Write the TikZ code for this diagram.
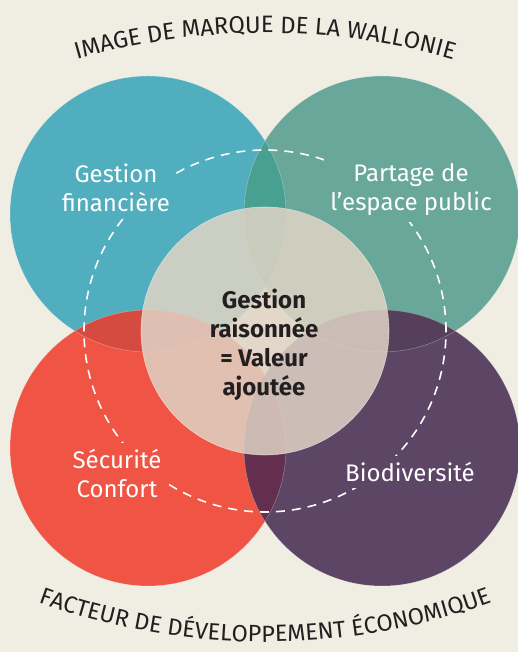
\documentclass[tikz,border=0pt]{standalone}
\usepackage{fontspec}
\setmainfont{Fira Sans}
\usepackage{xcolor}
\usepackage{tikz}
\usetikzlibrary{positioning,calc,decorations.text}
\definecolor{cream}{HTML}{F0EDE2}
\definecolor{tealc}{HTML}{50AEBE}
\definecolor{greenc}{HTML}{68A799}
\definecolor{redc}{HTML}{EF5444}
\definecolor{plumc}{HTML}{5D4566}
\definecolor{tgc}{HTML}{48A091}
\definecolor{trc}{HTML}{D64B40}
\definecolor{rpc}{HTML}{642E4F}
\definecolor{gpc}{HTML}{553F5A}
\definecolor{veil}{RGB}{224,212,197}
\definecolor{ink}{HTML}{231F20}
\newcommand{\bigR}{138}
\newcommand{\topfont}{\fontsize{23.8}{24}\selectfont\color{ink}}
\newcommand{\botfont}{\fontsize{23.5}{24}\selectfont\color{ink}}

\begin{document}
\begin{tikzpicture}[x=1pt, y=1pt,
    blob/.style={draw=white, draw opacity=0.35, line width=0.5pt},
    ring/.style={draw=white, line width=1.6pt, dash pattern=on 9pt off 7pt},
    lbl/.style={align=center, text=white, inner sep=6pt, font=\fontsize{24}{29}\selectfont},
    core/.style={align=center, text=ink, font=\fontsize{24}{29}\selectfont\bfseries}
]
\fill[cream] (0,0) rectangle (518,652);
\useasboundingbox (0,0) rectangle (518,652);

\coordinate (tl) at (148,438);
\coordinate (tr) at (382,438);
\coordinate (bl) at (148,204);
\coordinate (br) at (382,204);
\coordinate (mid) at (265,321);

\fill[tealc] (tl) circle[radius=\bigR];
\fill[greenc] (tr) circle[radius=\bigR];
\fill[redc] (bl) circle[radius=\bigR];
\fill[plumc] (br) circle[radius=\bigR];

\begin{scope}
  \clip (tl) circle[radius=\bigR];
  \fill[tgc] (tr) circle[radius=\bigR];
  \fill[trc] (bl) circle[radius=\bigR];
\end{scope}
\begin{scope}
  \clip (br) circle[radius=\bigR];
  \fill[rpc] (bl) circle[radius=\bigR];
  \fill[gpc] (tr) circle[radius=\bigR];
\end{scope}

\foreach \c in {tl,tr,bl,br}
  \draw[blob] (\c) circle[radius=\bigR];

\fill[veil, fill opacity=0.85] (mid) circle[radius=124];
\draw[white, opacity=0.5, line width=0.6pt] (mid) circle[radius=124];

\draw[ring] (mid) circle[radius=181];

\node[lbl, fill=tealc] (fin) at (116,464) {Gestion\\financière};
\node[lbl, fill=greenc] (esp) at (411,462) {Partage de\\l’espace public};
\node[lbl, fill=redc] (sec) at (117,178.5) {Sécurité\\Confort};
\node[lbl, fill=plumc] (bio) at (410,180) {Biodiversité};
\node[core] (val) at (264,307) {Gestion\\raisonnée\\= Valeur\\ajoutée};

\path[decorate, decoration={text along path, text align=center,
    text={|\topfont|IMAGE DE MARQUE DE LA WALLONIE}}]
  (265,-61) ++(112:680) arc[start angle=112, end angle=68, radius=680];
\path[decorate, decoration={text along path, text align=center,
    text={|\botfont|FACTEUR DE DÉVELOPPEMENT ÉCONOMIQUE}}]
  (265,676) ++(242:666) arc[start angle=242, end angle=298, radius=666];
\end{tikzpicture}
\end{document}
